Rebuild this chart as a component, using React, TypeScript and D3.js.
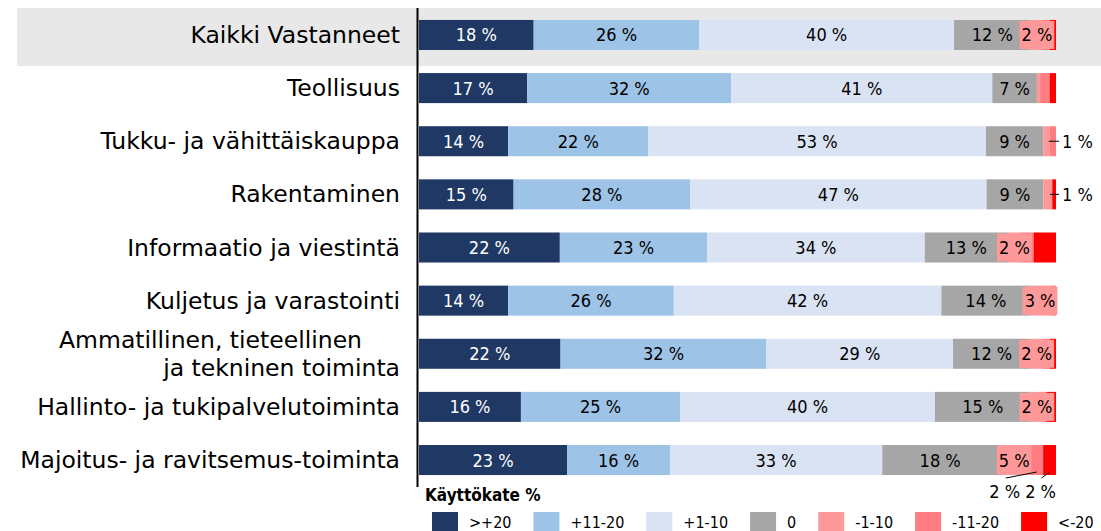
import { useEffect, useRef } from "react"
import * as d3 from "d3"

const categories = [
  "Kaikki Vastanneet",
  "Teollisuus",
  "Tukku- ja vähittäiskauppa",
  "Rakentaminen",
  "Informaatio ja viestintä",
  "Kuljetus ja varastointi",
  "Ammatillinen, tieteellinen|ja tekninen toiminta",
  "Hallinto- ja tukipalvelutoiminta",
  "Majoitus- ja ravitsemus-toiminta",
]

const seriesKeys = [">+20", "+11-20", "+1-10", "0", "-1-10", "-11-20", "<-20"]
const seriesColors = ["#203864", "#9DC3E6", "#DAE3F3", "#A6A6A6", "#FF9999", "#FF7C80", "#FF0000"]

// Käyttökate % -jakauma toimialoittain
const over20 = [18, 17, 14, 15, 22, 14, 22, 16, 23]
const plus11to20 = [26, 32, 22, 28, 23, 26, 32, 25, 16]
const plus1to10 = [40, 41, 53, 47, 34, 42, 29, 40, 33]
const zero = [12, 7, 9, 9, 13, 14, 12, 15, 18]
const minus1to10 = [2, 0.5, 1, 1.4, 2, 3, 2, 2, 5]
const minus11to20 = [1, 1.5, 1, 0, 2, 1, 1, 0.5, 2]
const under20 = [1, 1, 0, 0.6, 3.5, 0, 1, 1.5, 2]

const seriesValues = [over20, plus11to20, plus1to10, zero, minus1to10, minus11to20, under20]

// labels drawn outside the bar (row index, series)
const outsideRight = [
  { row: 2, key: "-11-20" },
  { row: 3, key: "<-20" },
]
const outsideBelow = [
  { row: 8, key: "-11-20" },
  { row: 8, key: "<-20" },
]

const FONT = "'DejaVu Sans', sans-serif"
const NARROW = "'DejaVu Sans Condensed', 'DejaVu Sans', sans-serif"

export default function App() {
  const svgRef = useRef<SVGSVGElement>(null)

  useEffect(() => {
    if (!svgRef.current) return
    const W = 1101
    const H = 531

    const rows = categories.map((c, i) => {
      const r: Record<string, any> = { cat: c }
      seriesKeys.forEach((k, j) => (r[k] = seriesValues[j][i]))
      return r
    })

    const stack = d3.stack<any>().keys(seriesKeys).offset(d3.stackOffsetExpand)
    const layers = stack(rows)

    d3.select(svgRef.current).selectAll("*").remove()
    const svg = d3.select(svgRef.current).attr("width", W).attr("height", H)

    const x = d3.scaleLinear().domain([0, 1]).range([419, 1056])
    const y = d3
      .scaleBand()
      .domain(categories)
      .range([8, 487])
      .paddingInner(0.435)
      .paddingOuter(0.225)
    const color = d3.scaleOrdinal<string>().domain(seriesKeys).range(seriesColors)

    // highlight of the total row
    svg
      .append("rect")
      .attr("x", 17)
      .attr("y", 8)
      .attr("width", W - 17)
      .attr("height", 58)
      .attr("fill", "#E8E8E8")

    // category labels
    const catG = svg.append("g")
    categories.forEach((c) => {
      const lines = c.split("|")
      const cy = (y(c) || 0) + y.bandwidth() / 2
      const t = catG
        .append("text")
        .attr("text-anchor", "end")
        .attr("font-family", FONT)
        .attr("font-size", 23.5)
        .attr("fill", "#000")
      lines.forEach((ln, i) => {
        t.append("tspan")
          .attr("x", lines.length > 1 && i === 0 ? 362 : 400)
          .attr("y", cy + (i - (lines.length - 1) / 2) * 28)
          .attr("dominant-baseline", "central")
          .text(ln)
      })
    })

    // bars
    const barG = svg.append("g")
    layers.forEach((layer) => {
      barG
        .append("g")
        .attr("fill", color(layer.key))
        .selectAll("rect")
        .data(layer)
        .enter()
        .append("rect")
        .attr("x", (d) => x(d[0]))
        .attr("y", (d) => y(d.data.cat) || 0)
        .attr("width", (d) => Math.max(0, x(d[1]) - x(d[0])))
        .attr("height", y.bandwidth())
    })

    // labels inside bars
    const labG = svg.append("g").attr("font-family", NARROW).attr("font-size", 18)
    layers.forEach((layer, li) => {
      layer.forEach((d, ri) => {
        const v = seriesValues[li][ri]
        const show = li <= 3 ? v >= 5 : li === 4 && v >= 2
        if (!show) return
        const cx = (x(d[0]) + x(d[1])) / 2
        const cy = (y(d.data.cat) || 0) + y.bandwidth() / 2
        const t = labG
          .append("text")
          .attr("x", cx)
          .attr("y", cy)
          .attr("text-anchor", "middle")
          .attr("dominant-baseline", "central")
          .attr("fill", li === 0 ? "#fff" : "#000")
          .text(`${Math.round(v)} %`)
        if (li === 4) {
          const bb = (t.node() as SVGTextElement).getBBox()
          labG
            .insert("rect", () => t.node())
            .attr("x", bb.x - 2)
            .attr("y", cy - y.bandwidth() / 2 + 1)
            .attr("width", bb.width + 4)
            .attr("height", y.bandwidth() - 2)
            .attr("fill", color(layer.key))
        }
      })
    })

    // outside labels to the right
    outsideRight.forEach((o) => {
      const li = seriesKeys.indexOf(o.key)
      const d = layers[li][o.row]
      const cy = (y(d.data.cat) || 0) + y.bandwidth() / 2
      const sx = (x(d[0]) + x(d[1])) / 2
      svg
        .append("line")
        .attr("x1", sx - 4)
        .attr("x2", x(1) + 3)
        .attr("y1", cy)
        .attr("y2", cy)
        .attr("stroke", "#000")
        .attr("stroke-width", 1)
      svg
        .append("text")
        .attr("x", x(1) + 6)
        .attr("y", cy)
        .attr("dominant-baseline", "central")
        .attr("font-family", NARROW)
        .attr("font-size", 18)
        .text(`${Math.round(seriesValues[li][o.row])} %`)
    })

    // outside labels below
    const belowOffsets = [-32, -9]
    outsideBelow.forEach((o, i) => {
      const li = seriesKeys.indexOf(o.key)
      const d = layers[li][o.row]
      const bottom = (y(d.data.cat) || 0) + y.bandwidth()
      const sx = (x(d[0]) + x(d[1])) / 2
      const tx = sx + belowOffsets[i]
      svg
        .append("line")
        .attr("x1", tx + 1)
        .attr("y1", bottom + 3)
        .attr("x2", sx)
        .attr("y2", bottom - 3)
        .attr("stroke", "#000")
        .attr("stroke-width", 1)
      svg
        .append("text")
        .attr("x", tx)
        .attr("y", bottom + 16)
        .attr("text-anchor", "middle")
        .attr("dominant-baseline", "central")
        .attr("font-family", NARROW)
        .attr("font-size", 18)
        .text(`${Math.round(seriesValues[li][o.row])} %`)
    })

    // axis line
    svg
      .append("line")
      .attr("x1", 417.5)
      .attr("x2", 417.5)
      .attr("y1", y.range()[0])
      .attr("y2", y.range()[1])
      .attr("stroke", "#000")
      .attr("stroke-width", 2)

    // legend
    svg
      .append("text")
      .attr("x", 425)
      .attr("y", 495)
      .attr("dominant-baseline", "central")
      .attr("font-family", NARROW)
      .attr("font-size", 17)
      .attr("font-weight", "bold")
      .text("Käyttökate %")

    let lx = 432
    const legG = svg.append("g")
    seriesKeys.forEach((k) => {
      legG
        .append("rect")
        .attr("x", lx)
        .attr("y", 512)
        .attr("width", 26)
        .attr("height", 19)
        .attr("fill", color(k))
      const t = legG
        .append("text")
        .attr("x", lx + 37)
        .attr("y", 522)
        .attr("dominant-baseline", "central")
        .attr("font-family", NARROW)
        .attr("font-size", 16)
        .text(k)
      lx += 37 + (t.node() as SVGTextElement).getComputedTextLength() + 22
    })
  }, [])

  return (
    <div style={{ position: "absolute", left: 0, top: 0, background: "#fff" }}>
      <svg ref={svgRef} style={{ display: "block" }} />
    </div>
  )
}
